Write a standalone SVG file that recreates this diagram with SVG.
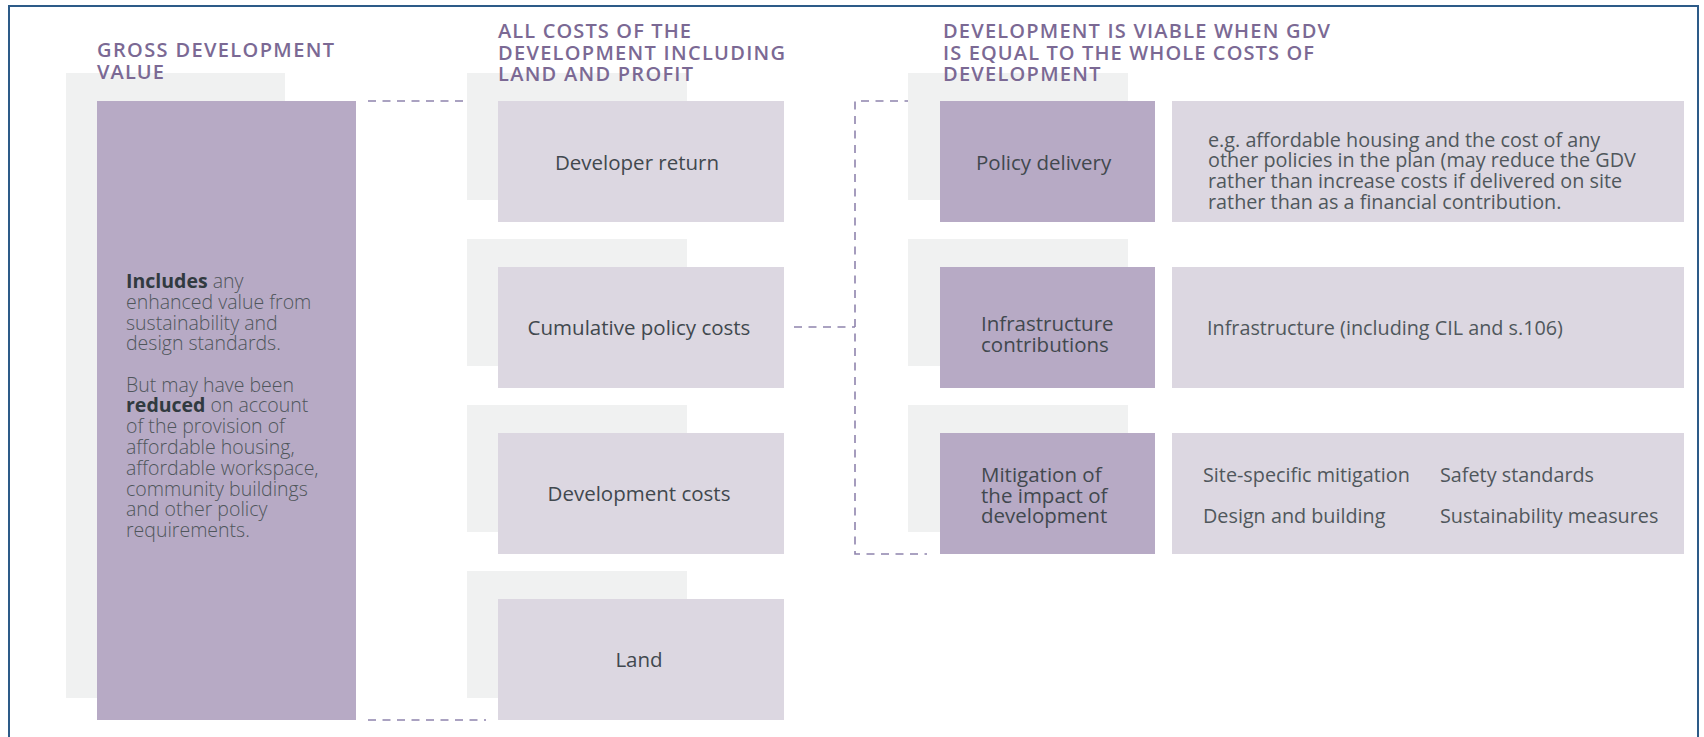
<svg xmlns="http://www.w3.org/2000/svg" width="1704" height="737" viewBox="0 0 1704 737">
<style>
.frame{fill:none;stroke:#2d5b88;stroke-width:2}
.bg{fill:#f0f1f1}
.dark{fill:#b7aac5}
.mid{fill:#dcd7e1}
.title{font-family:"Open Sans","Liberation Sans",sans-serif;font-weight:600;font-size:20px;fill:#7b6994}
.lbl{font-family:"Open Sans","Liberation Sans",sans-serif;font-size:20.5px;fill:#41484e}
.body{font-family:"Open Sans","Liberation Sans",sans-serif;font-size:19.5px;font-weight:300;fill:#4f565b}
.b{font-weight:700;fill:#313a40}
.desc{font-family:"Open Sans","Liberation Sans",sans-serif;font-size:19.8px;fill:#50575c}
.dash{fill:none;stroke:#8f84ad;stroke-width:1.6;stroke-dasharray:8 6.5}
</style>
<rect class="frame" x="9" y="6" width="1689" height="760"/>

<g id="connectors">
<line class="dash" x1="368" y1="101" x2="486" y2="101"/>
<line class="dash" x1="368" y1="720" x2="486" y2="720"/>
<line class="dash" x1="794" y1="327" x2="855" y2="327"/>
<path class="dash" d="M927 101 H855 V554 H927"/>
</g>

<g id="gdv">
<rect class="bg" x="66" y="73" width="219" height="625"/>
<rect class="dark" x="97" y="101" width="259" height="619"/>
<text class="body" x="126" y="288"><tspan class="b">Includes</tspan> any</text>
<text class="body" x="126" y="308.8">enhanced value from</text>
<text class="body" x="126" y="329.6">sustainability and</text>
<text class="body" x="126" y="350.4">design standards.</text>
<text class="body" x="126" y="391.5">But may have been</text>
<text class="body" x="126" y="412.3"><tspan class="b">reduced</tspan> on account</text>
<text class="body" x="126" y="433.1">of the provision of</text>
<text class="body" x="126" y="453.9">affordable housing,</text>
<text class="body" x="126" y="474.7">affordable workspace,</text>
<text class="body" x="126" y="495.5">community buildings</text>
<text class="body" x="126" y="516.3">and other policy</text>
<text class="body" x="126" y="537.1">requirements.</text>
</g>

<g id="developer-return">
<rect class="bg" x="467" y="73" width="220" height="127"/>
<rect class="mid" x="498" y="101" width="286" height="121"/>
<text class="lbl" x="637" y="170" text-anchor="middle">Developer return</text>
</g>
<g id="cumulative-policy-costs">
<rect class="bg" x="467" y="239" width="220" height="127"/>
<rect class="mid" x="498" y="267" width="286" height="121"/>
<text class="lbl" x="639" y="335" text-anchor="middle">Cumulative policy costs</text>
</g>
<g id="development-costs">
<rect class="bg" x="467" y="405" width="220" height="127"/>
<rect class="mid" x="498" y="433" width="286" height="121"/>
<text class="lbl" x="639" y="501" text-anchor="middle">Development costs</text>
</g>
<g id="land">
<rect class="bg" x="467" y="571" width="220" height="127"/>
<rect class="mid" x="498" y="599" width="286" height="121"/>
<text class="lbl" x="639" y="667" text-anchor="middle">Land</text>
</g>

<g id="policy-delivery">
<rect class="bg" x="908" y="73" width="220" height="127"/>
<rect class="dark" x="940" y="101" width="215" height="121"/>
<text class="lbl" x="976" y="170">Policy delivery</text>
</g>
<g id="policy-delivery-desc">
<rect class="mid" x="1172" y="101" width="512" height="121"/>
<text class="desc" x="1208" y="146.5">e.g. affordable housing and the cost of any</text>
<text class="desc" x="1208" y="167.3">other policies in the plan (may reduce the GDV</text>
<text class="desc" x="1208" y="188.1">rather than increase costs if delivered on site</text>
<text class="desc" x="1208" y="208.9">rather than as a financial contribution.</text>
</g>

<g id="infrastructure-contributions">
<rect class="bg" x="908" y="239" width="220" height="127"/>
<rect class="dark" x="940" y="267" width="215" height="121"/>
<text class="lbl" x="981" y="331">Infrastructure</text>
<text class="lbl" x="981" y="352">contributions</text>
</g>
<g id="infrastructure-desc">
<rect class="mid" x="1172" y="267" width="512" height="121"/>
<text class="desc" x="1207" y="335">Infrastructure (including CIL and s.106)</text>
</g>

<g id="mitigation">
<rect class="bg" x="908" y="405" width="220" height="127"/>
<rect class="dark" x="940" y="433" width="215" height="121"/>
<text class="lbl" x="981" y="482">Mitigation of</text>
<text class="lbl" x="981" y="502.5">the impact of</text>
<text class="lbl" x="981" y="523">development</text>
</g>
<g id="mitigation-desc">
<rect class="mid" x="1172" y="433" width="512" height="121"/>
<text class="desc" x="1203" y="482">Site-specific mitigation</text>
<text class="desc" x="1440" y="482">Safety standards</text>
<text class="desc" x="1203" y="523">Design and building</text>
<text class="desc" x="1440" y="523">Sustainability measures</text>
</g>

<g id="titles">
<text class="title" x="97" y="57" textLength="237" lengthAdjust="spacing">GROSS DEVELOPMENT</text>
<text class="title" x="97" y="78.5" textLength="67" lengthAdjust="spacing">VALUE</text>
<text class="title" x="498" y="38" textLength="193" lengthAdjust="spacing">ALL COSTS OF THE</text>
<text class="title" x="498" y="59.5" textLength="287" lengthAdjust="spacing">DEVELOPMENT INCLUDING</text>
<text class="title" x="498" y="81" textLength="195" lengthAdjust="spacing">LAND AND PROFIT</text>
<text class="title" x="943" y="38" textLength="387" lengthAdjust="spacing">DEVELOPMENT IS VIABLE WHEN GDV</text>
<text class="title" x="943" y="59.5" textLength="371" lengthAdjust="spacing">IS EQUAL TO THE WHOLE COSTS OF</text>
<text class="title" x="943" y="81" textLength="157.5" lengthAdjust="spacing">DEVELOPMENT</text>
</g>
</svg>
